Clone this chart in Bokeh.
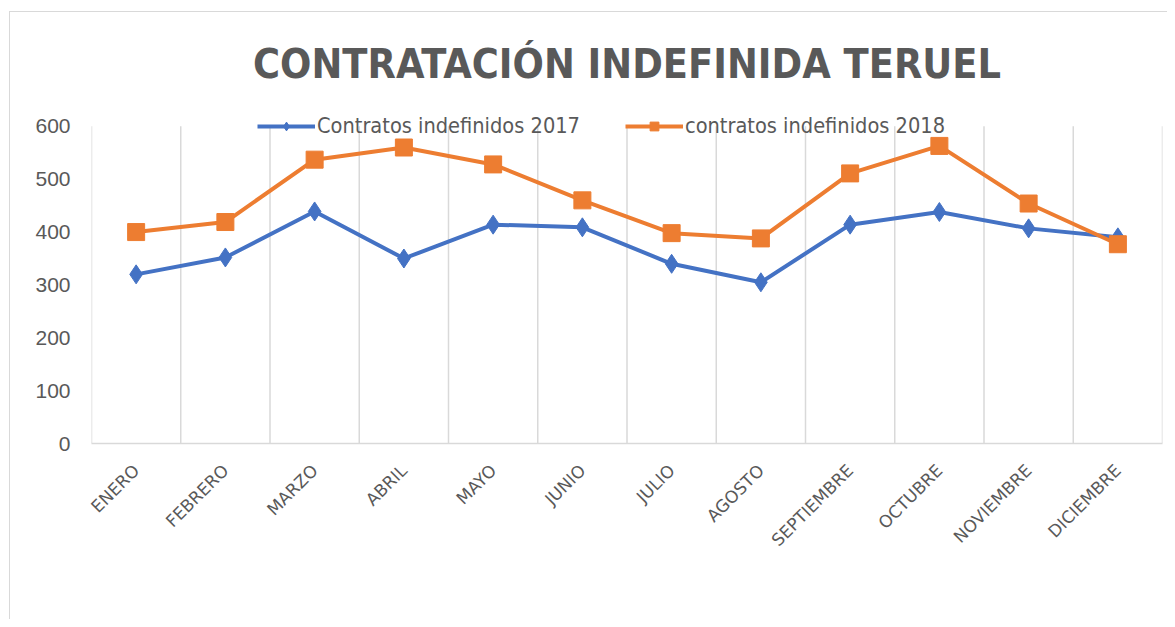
import math
from bokeh.plotting import figure
from bokeh.models import Range1d, FixedTicker, Legend, LegendItem
from bokeh.embed import file_html
from bokeh.resources import INLINE

# ---- data ----
meses = ["ENERO", "FEBRERO", "MARZO", "ABRIL", "MAYO", "JUNIO", "JULIO",
         "AGOSTO", "SEPTIEMBRE", "OCTUBRE", "NOVIEMBRE", "DICIEMBRE"]
contratos_2017 = [320, 352, 439, 350, 414, 409, 340, 305, 414, 438, 407, 390]
contratos_2018 = [400, 419, 537, 560, 528, 460, 398, 388, 511, 563, 454, 377]
y_ticks = [0, 100, 200, 300, 400, 500, 600]
serie_2017 = "Contratos indefinidos 2017"
serie_2018 = "contratos indefinidos 2018"
titulo = "CONTRATACIÓN INDEFINIDA TERUEL"

BLUE = "#4472C4"
ORANGE = "#ED7D31"
GRAY_TXT = "#595959"
GRID = "#d9d9d9"
NARROW = "Liberation Sans Narrow, DejaVu Sans Condensed, sans-serif"

n = len(meses)
x = [i + 0.5 for i in range(n)]
bounds = list(range(n + 1))

p = figure(width=1167, height=619, output_backend="svg", toolbar_location=None,
           x_range=Range1d(0, n), y_range=Range1d(y_ticks[0], 630),
           min_border_left=91, min_border_right=5, min_border_top=110,
           min_border_bottom=176)

# light chart-area border (only left/top edges visible), drawn as CSS background
p.border_fill_alpha = 0
p.background_fill_alpha = 0
p.styles = {
    "background-color": "white",
    "background-image": "linear-gradient(#d9d9d9, #d9d9d9), linear-gradient(#d9d9d9, #d9d9d9)",
    "background-size": "1px 100%, 100% 1px",
    "background-position": "9px 11px, 9px 11px",
    "background-repeat": "no-repeat",
}

p.title.text = titulo
p.title.align = "center"
p.title.text_font = NARROW
p.title.text_font_size = "41px"
p.title.text_font_style = "bold"
p.title.text_color = GRAY_TXT
p.title.standoff = 46

# vertical category gridlines (0 .. 600)
p.segment(x0=bounds, y0=[y_ticks[0]] * len(bounds), x1=bounds,
          y1=[y_ticks[-1]] * len(bounds), line_color=GRID, line_width=1.5)

l1 = p.line(x, contratos_2017, line_color=BLUE, line_width=4)
s1 = p.scatter(x, contratos_2017, marker="diamond", size=19, fill_color=BLUE, line_color=BLUE)
l2 = p.line(x, contratos_2018, line_color=ORANGE, line_width=4)
s2 = p.scatter(x, contratos_2018, marker="square", size=17, fill_color=ORANGE, line_color=ORANGE)

legend = Legend(items=[LegendItem(label=serie_2017, renderers=[l1, s1]),
                       LegendItem(label=serie_2018, renderers=[l2, s2])],
                orientation="horizontal", location=(166, 305),
                glyph_width=58, glyph_height=22, label_standoff=2, spacing=45,
                padding=0, margin=0, background_fill_alpha=0, border_line_alpha=0,
                label_text_font=NARROW, label_text_font_size="21.6px",
                label_text_color=GRAY_TXT, label_height=22)
p.add_layout(legend)

p.xaxis.ticker = FixedTicker(ticks=x)
p.xaxis.major_label_overrides = {xi: m for xi, m in zip(x, meses)}
p.xaxis.major_label_orientation = math.pi / 4
p.xaxis.major_tick_line_color = None
p.xaxis.minor_tick_line_color = None
p.xaxis.axis_line_color = GRID
p.xaxis.axis_line_width = 1.5
p.xaxis.major_label_text_font = "DejaVu Sans"
p.xaxis.major_label_text_font_size = "17px"
p.xaxis.major_label_text_color = GRAY_TXT
p.xaxis.major_label_standoff = 18

p.yaxis.ticker = FixedTicker(ticks=y_ticks)
p.yaxis.axis_line_color = None
p.yaxis.major_tick_line_color = None
p.yaxis.minor_tick_line_color = None
p.yaxis.major_label_text_font = "Liberation Sans"
p.yaxis.major_label_text_font_size = "21px"
p.yaxis.major_label_text_color = GRAY_TXT
p.yaxis.major_label_standoff = 15

p.xgrid.grid_line_color = None
p.ygrid.grid_line_color = None
p.outline_line_color = None

open("out.html", "w").write(file_html(p, INLINE))
